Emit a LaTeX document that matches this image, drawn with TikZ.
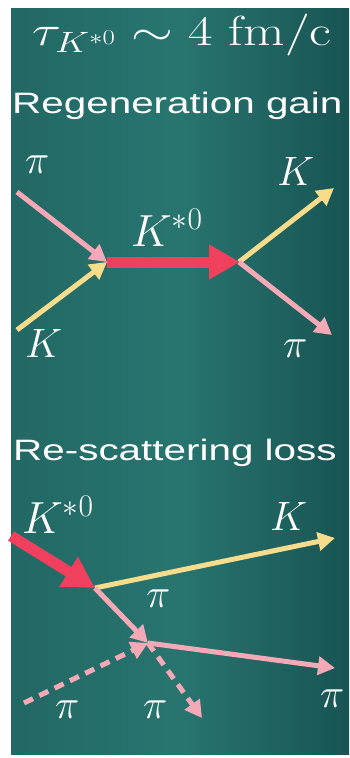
\RequirePackage{fix-cm}
\documentclass[tikz,border=0pt]{standalone}
\usepackage{fontspec}
\setsansfont{Liberation Sans}
\usetikzlibrary{arrows.meta}
\definecolor{tealL}{RGB}{34,104,100}
\definecolor{tealM}{RGB}{40,117,112}
\definecolor{tealR}{RGB}{24,84,83}
\definecolor{pipink}{RGB}{245,168,182}
\definecolor{kyel}{RGB}{247,220,140}
\definecolor{kred}{RGB}{240,64,94}
\begin{document}
\begin{tikzpicture}[x=1pt,y=-1pt,
  lbl/.style={text=white, inner sep=0pt, anchor=base west},
  mathlbl/.style={lbl, font=\fontsize{41}{44}\selectfont},
  biglbl/.style={lbl, font=\fontsize{45}{50}\selectfont},
  head/.style={lbl, font=\sffamily\fontsize{29.5}{32}\selectfont},
  piarrow/.style={draw=pipink, line width=5pt, -{Triangle[length=17pt,width=18pt]}},
  karrow/.style={draw=kyel, line width=5pt, -{Triangle[length=17pt,width=18pt]}},
  redarrow/.style={draw=kred, line width=11pt, -{Triangle[length=31pt,width=33pt]}},
  dasharrow/.style={piarrow, dash pattern=on 10pt off 7pt}
]
\useasboundingbox (0,0) rectangle (349,758);
\fill[white] (0,0) rectangle (349,758);
\shade[left color=tealL, right color=tealR, middle color=tealM] (11,8) rectangle (349,754);

% title and headings
\node[lbl, font=\fontsize{42}{46}\selectfont] (title) at (32,45) {\scalebox{1.28}[1]{$\tau_{K^{*0}} \sim 4\ \mathrm{fm/c}$}};
\node[head] (regen) at (12,113) {\scalebox{1.37}[1]{Regeneration gain}};
\node[head] (resc) at (13,460) {\scalebox{1.37}[1]{Re-scattering loss}};

% regeneration
\coordinate (a1) at (17,192);
\coordinate (a2) at (17,330);
\coordinate (v1) at (107,262);
\coordinate (v2) at (238,262);
\coordinate (a3) at (334,188);
\coordinate (a4) at (332,335);
\draw[piarrow] (a1) -- (v1);
\draw[karrow] (a2) -- (v1);
\draw[karrow] ([xshift=1pt]v2) -- (a3);
\draw[piarrow] ([xshift=1pt]v2) -- (a4);
\draw[redarrow] (v1) -- ([xshift=2pt]v2);
\node[mathlbl] (pi1) at (25,173) {$\pi$};
\node[mathlbl] (k1) at (25,357) {$K$};
\node[biglbl] (ks1) at (131,246) {$K^{*0}$};
\node[mathlbl] (k2) at (277,185) {$K$};
\node[mathlbl] (pi2) at (283,357) {$\pi$};

% re-scattering
\coordinate (b1) at (11,536);
\coordinate (w1) at (95,588);
\coordinate (b2) at (335,538);
\coordinate (w2) at (148,643);
\coordinate (b3) at (335,668);
\coordinate (b4) at (24,703);
\coordinate (b5) at (202,718);
\draw[redarrow] (b1) -- (w1);
\draw[karrow] (w1) -- (b2);
\draw[piarrow] (w1) -- (w2);
\draw[piarrow] (w2) -- (b3);
\draw[dasharrow] (b4) -- (w2);
\draw[dasharrow] (w2) -- (b5);
\node[biglbl] (ks2) at (22,533) {$K^{*0}$};
\node[mathlbl] (k3) at (270,530) {$K$};
\node[mathlbl] (pi3) at (146,607) {$\pi$};
\node[mathlbl] (pi4) at (320,707) {$\pi$};
\node[mathlbl] (pi5) at (55,718) {$\pi$};
\node[mathlbl] (pi6) at (143,718) {$\pi$};
\end{tikzpicture}
\end{document}
